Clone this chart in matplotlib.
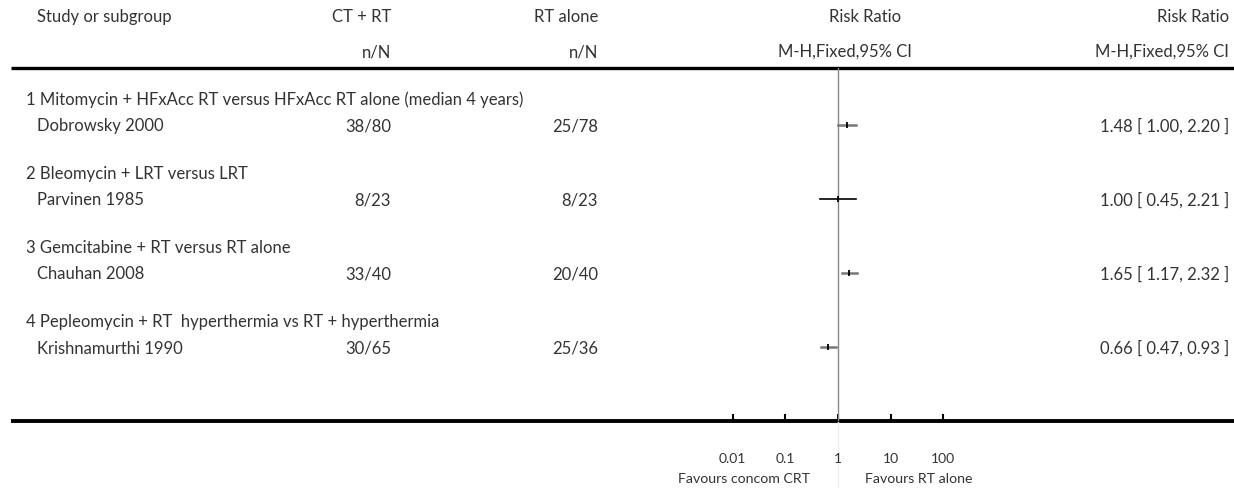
import numpy as np
import matplotlib.pyplot as plt

plt.rcParams['font.family'] = ['Lato', 'DejaVu Sans']

# Subgroups and trials
groups = [
    "1 Mitomycin + HFxAcc RT versus HFxAcc RT alone (median 4 years)",
    "2 Bleomycin + LRT versus LRT",
    "3 Gemcitabine + RT versus RT alone",
    "4 Pepleomycin + RT  hyperthermia vs RT + hyperthermia",
]
studies = ["Dobrowsky 2000", "Parvinen 1985", "Chauhan 2008", "Krishnamurthi 1990"]
ct_rt = ["38/80", "8/23", "33/40", "30/65"]
rt_alone = ["25/78", "8/23", "20/40", "25/36"]
rr = [1.48, 1.00, 1.65, 0.66]
ci_lo = [1.00, 0.45, 1.17, 0.47]
ci_hi = [2.20, 2.21, 2.32, 0.93]
ticks = [0.01, 0.1, 1, 10, 100]
tick_labels = ["0.01", "0.1", "1", "10", "100"]

W, H = 1234, 489
fig = plt.figure(figsize=(W / 100, H / 100), dpi=100)

# background axes in pixel units for the table text and rules
bg = fig.add_axes([0, 0, 1, 1])
bg.set_xlim(0, W)
bg.set_ylim(H, 0)
bg.axis('off')

fs = 12
tc = '#333333'

# header
bg.text(37, 17, "Study or subgroup", fontsize=fs, color=tc, va='center', ha='left')
bg.text(391, 17, "CT + RT", fontsize=fs, color=tc, va='center', ha='right')
bg.text(598, 17, "RT alone", fontsize=fs, color=tc, va='center', ha='right')
bg.text(865, 17, "Risk Ratio", fontsize=fs, color=tc, va='center', ha='center')
bg.text(1229, 17, "Risk Ratio", fontsize=fs, color=tc, va='center', ha='right')
bg.text(391, 52, "n/N", fontsize=fs, color=tc, va='center', ha='right')
bg.text(598, 52, "n/N", fontsize=fs, color=tc, va='center', ha='right')
bg.text(845, 52, "M-H,Fixed,95% CI", fontsize=fs, color=tc, va='center', ha='center')
bg.text(1229, 52, "M-H,Fixed,95% CI", fontsize=fs, color=tc, va='center', ha='right')

# rules
bg.plot([11, W], [69, 69], color='black', lw=2.4, solid_capstyle='butt')
bg.plot([11, W], [421.5, 421.5], color='black', lw=2.8, solid_capstyle='butt')

row0, step = 100, 24.7
rows_g = [0, 3, 6, 9]
for i in range(len(studies)):
    yg = row0 + step * rows_g[i]
    ys = row0 + step * (rows_g[i] + 1) + 1.5
    bg.text(26, yg, groups[i], fontsize=fs, color=tc, va='center', ha='left')
    bg.text(37, ys, studies[i], fontsize=fs, color=tc, va='center', ha='left')
    bg.text(391, ys, ct_rt[i], fontsize=fs, color=tc, va='center', ha='right')
    bg.text(598, ys, rt_alone[i], fontsize=fs, color=tc, va='center', ha='right')
    bg.text(1229, ys, f"{rr[i]:.2f} [ {ci_lo[i]:.2f}, {ci_hi[i]:.2f} ]",
            fontsize=fs, color=tc, va='center', ha='right')

bg.text(810, 479, "Favours concom CRT", fontsize=10.2, color=tc, va='center', ha='right')
bg.text(865, 479, "Favours RT alone", fontsize=10.2, color=tc, va='center', ha='left')
bg.plot([838, 838], [423, H], color='#eeeeee', lw=1)

# forest plot axes on a log scale
x0, x1 = 680, 996
ytop, ybot = 69, 421.5
ax = fig.add_axes([x0 / W, (H - ybot) / H, (x1 - x0) / W, (ybot - ytop) / H])
ax.set_xscale('log')
ax.set_xlim(1e-3, 1e3)
ax.set_ylim((ybot - row0) / step, (ytop - row0) / step)
ax.patch.set_alpha(0)
for s in ['top', 'left', 'right', 'bottom']:
    ax.spines[s].set_visible(False)
ax.set_yticks([])
ax.axvline(1, color='#888888', lw=1)

for i in range(len(studies)):
    y = rows_g[i] + 1 + 1.5 / step
    if i == 1:
        ax.plot([ci_lo[i], ci_hi[i]], [y, y], color='black', lw=1.2)
    else:
        ax.plot([ci_lo[i], ci_hi[i]], [y, y], color='#777777', lw=1.8)
    ax.plot(rr[i], y, marker='|', color='black', ms=5, mew=1.3)

ax.set_xticks(ticks)
ax.set_xticklabels(tick_labels)
ax.minorticks_off()
ax.tick_params(axis='x', direction='in', length=5, width=1.5, pad=23,
               labelsize=10, labelcolor=tc)

fig.savefig('out.png', dpi=100)
